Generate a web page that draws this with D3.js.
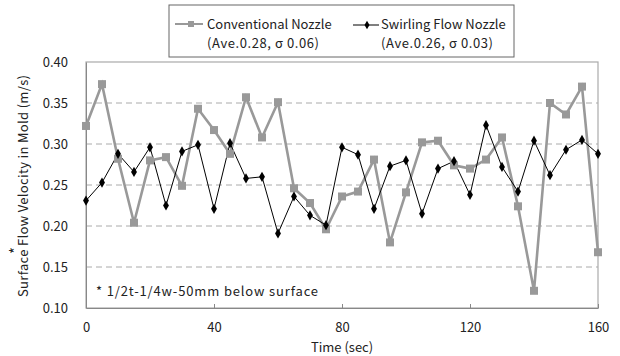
<!DOCTYPE html>
<html>
<head>
<meta charset="utf-8">
<script src="https://cdn.jsdelivr.net/npm/d3@7"></script>
<style>
  body { margin: 0; background: #fff; }
  text { font-family: "Noto Sans CJK JP", "Noto Sans", sans-serif; fill: #222; }
</style>
</head>
<body>
<svg id="chart" width="620" height="356"></svg>
<script>
// --- data ---
const times = d3.range(0, 161, 5);
const conventional = [0.322, 0.373, 0.282, 0.204, 0.280, 0.284, 0.249, 0.343, 0.317, 0.288,
  0.357, 0.308, 0.351, 0.246, 0.228, 0.196, 0.236, 0.242, 0.281, 0.180, 0.241, 0.302,
  0.304, 0.274, 0.270, 0.281, 0.308, 0.224, 0.121, 0.350, 0.336, 0.370, 0.168];
const swirling = [0.231, 0.253, 0.288, 0.266, 0.296, 0.225, 0.291, 0.299, 0.221, 0.301,
  0.258, 0.260, 0.191, 0.236, 0.213, 0.201, 0.296, 0.287, 0.221, 0.273, 0.280, 0.215,
  0.270, 0.279, 0.238, 0.323, 0.272, 0.242, 0.304, 0.262, 0.293, 0.305, 0.288];
const xTicks = [0, 40, 80, 120, 160];
const yTicks = [0.10, 0.15, 0.20, 0.25, 0.30, 0.35, 0.40];
const gridTicks = [0.15, 0.20, 0.25, 0.30, 0.35];

const svg = d3.select("#chart");
const m = { left: 86, right: 22, top: 62, bottom: 48 };
const W = 620, H = 356;

const x = d3.scaleLinear().domain([0, 160]).range([m.left, W - m.right]);
const y = d3.scaleLinear().domain([0.10, 0.40]).range([H - m.bottom, m.top]);

// gridlines
svg.append("g").selectAll("line").data(gridTicks).join("line")
  .attr("x1", x(0)).attr("x2", x(160))
  .attr("y1", d => y(d)).attr("y2", d => y(d))
  .attr("stroke", "#aaa").attr("stroke-width", 1).attr("stroke-dasharray", "6,4");

// plot frame
svg.append("rect")
  .attr("x", x(0)).attr("y", y(0.40))
  .attr("width", x(160) - x(0)).attr("height", y(0.10) - y(0.40))
  .attr("fill", "none").attr("stroke", "#aaa").attr("stroke-width", 1.2);

// axes
const xAxis = svg.append("g").attr("transform", `translate(0,${y(0.10)})`)
  .call(d3.axisBottom(x).tickValues(xTicks).tickSizeInner(-4).tickSizeOuter(0).tickPadding(15));
const yAxis = svg.append("g").attr("transform", `translate(${x(0)},0)`)
  .call(d3.axisLeft(y).tickValues(yTicks).tickFormat(d3.format(".2f")).tickSize(0).tickPadding(18));
[xAxis, yAxis].forEach(a => {
  a.select(".domain").attr("stroke", "#888");
  a.selectAll(".tick line").attr("stroke", "#888");
  a.selectAll("text").attr("font-size", 13).attr("fill", "#222")
    .attr("font-family", "'Noto Sans CJK JP', sans-serif");
});

// lines
const line = d3.line().x((d, i) => x(times[i])).y(d => y(d));
svg.append("path").datum(conventional).attr("d", line)
  .attr("fill", "none").attr("stroke", "#999").attr("stroke-width", 2.6);
svg.append("path").datum(swirling).attr("d", line)
  .attr("fill", "none").attr("stroke", "#000").attr("stroke-width", 1);

// markers
svg.append("g").selectAll("rect").data(conventional).join("rect")
  .attr("x", (d, i) => x(times[i]) - 4).attr("y", d => y(d) - 4)
  .attr("width", 8).attr("height", 8).attr("fill", "#999");
const diamond = d3.symbol().type(d3.symbolDiamond).size(30);
svg.append("g").selectAll("path").data(swirling).join("path")
  .attr("transform", (d, i) => `translate(${x(times[i])},${y(d)})`)
  .attr("d", diamond).attr("fill", "#000");

// axis titles
svg.append("text").attr("x", x(80)).attr("y", 352)
  .attr("text-anchor", "middle").attr("font-size", 13).text("Time (sec)");
const yl = svg.append("g").attr("transform", "translate(28,186) rotate(-90)");
yl.append("text").attr("text-anchor", "middle").attr("font-size", 13)
  .attr("textLength", 222).attr("lengthAdjust", "spacing")
  .text("Surface Flow Velocity in Mold (m/s)");
yl.append("text").attr("x", -68).attr("y", -7).attr("font-size", 15).text("*");

// note
svg.append("text").attr("x", 96).attr("y", 296).attr("font-size", 13)
  .attr("textLength", 222).attr("lengthAdjust", "spacing")
  .text("* 1/2t-1/4w-50mm below surface");

// legend
const lg = svg.append("g");
lg.append("rect").attr("x", 169).attr("y", 5).attr("width", 345).attr("height", 52)
  .attr("fill", "#fff").attr("stroke", "#666").attr("stroke-width", 1);
lg.append("line").attr("x1", 175).attr("x2", 203).attr("y1", 24).attr("y2", 24)
  .attr("stroke", "#999").attr("stroke-width", 2);
lg.append("rect").attr("x", 188).attr("y", 21).attr("width", 6).attr("height", 6).attr("fill", "#999");
lg.append("text").attr("x", 207).attr("y", 29).attr("font-size", 13).text("Conventional Nozzle");
lg.append("text").attr("x", 207).attr("y", 48).attr("font-size", 13)
  .attr("textLength", 112).attr("lengthAdjust", "spacing").text("(Ave.0.28, σ 0.06)");
lg.append("line").attr("x1", 353).attr("x2", 379).attr("y1", 25).attr("y2", 25)
  .attr("stroke", "#000").attr("stroke-width", 1);
lg.append("path").attr("transform", "translate(367,25)")
  .attr("d", d3.symbol().type(d3.symbolDiamond).size(22)).attr("fill", "#000");
lg.append("text").attr("x", 381).attr("y", 29).attr("font-size", 13).text("Swirling Flow Nozzle");
lg.append("text").attr("x", 381).attr("y", 48).attr("font-size", 13)
  .attr("textLength", 112).attr("lengthAdjust", "spacing").text("(Ave.0.26, σ 0.03)");
</script>
</body>
</html>
